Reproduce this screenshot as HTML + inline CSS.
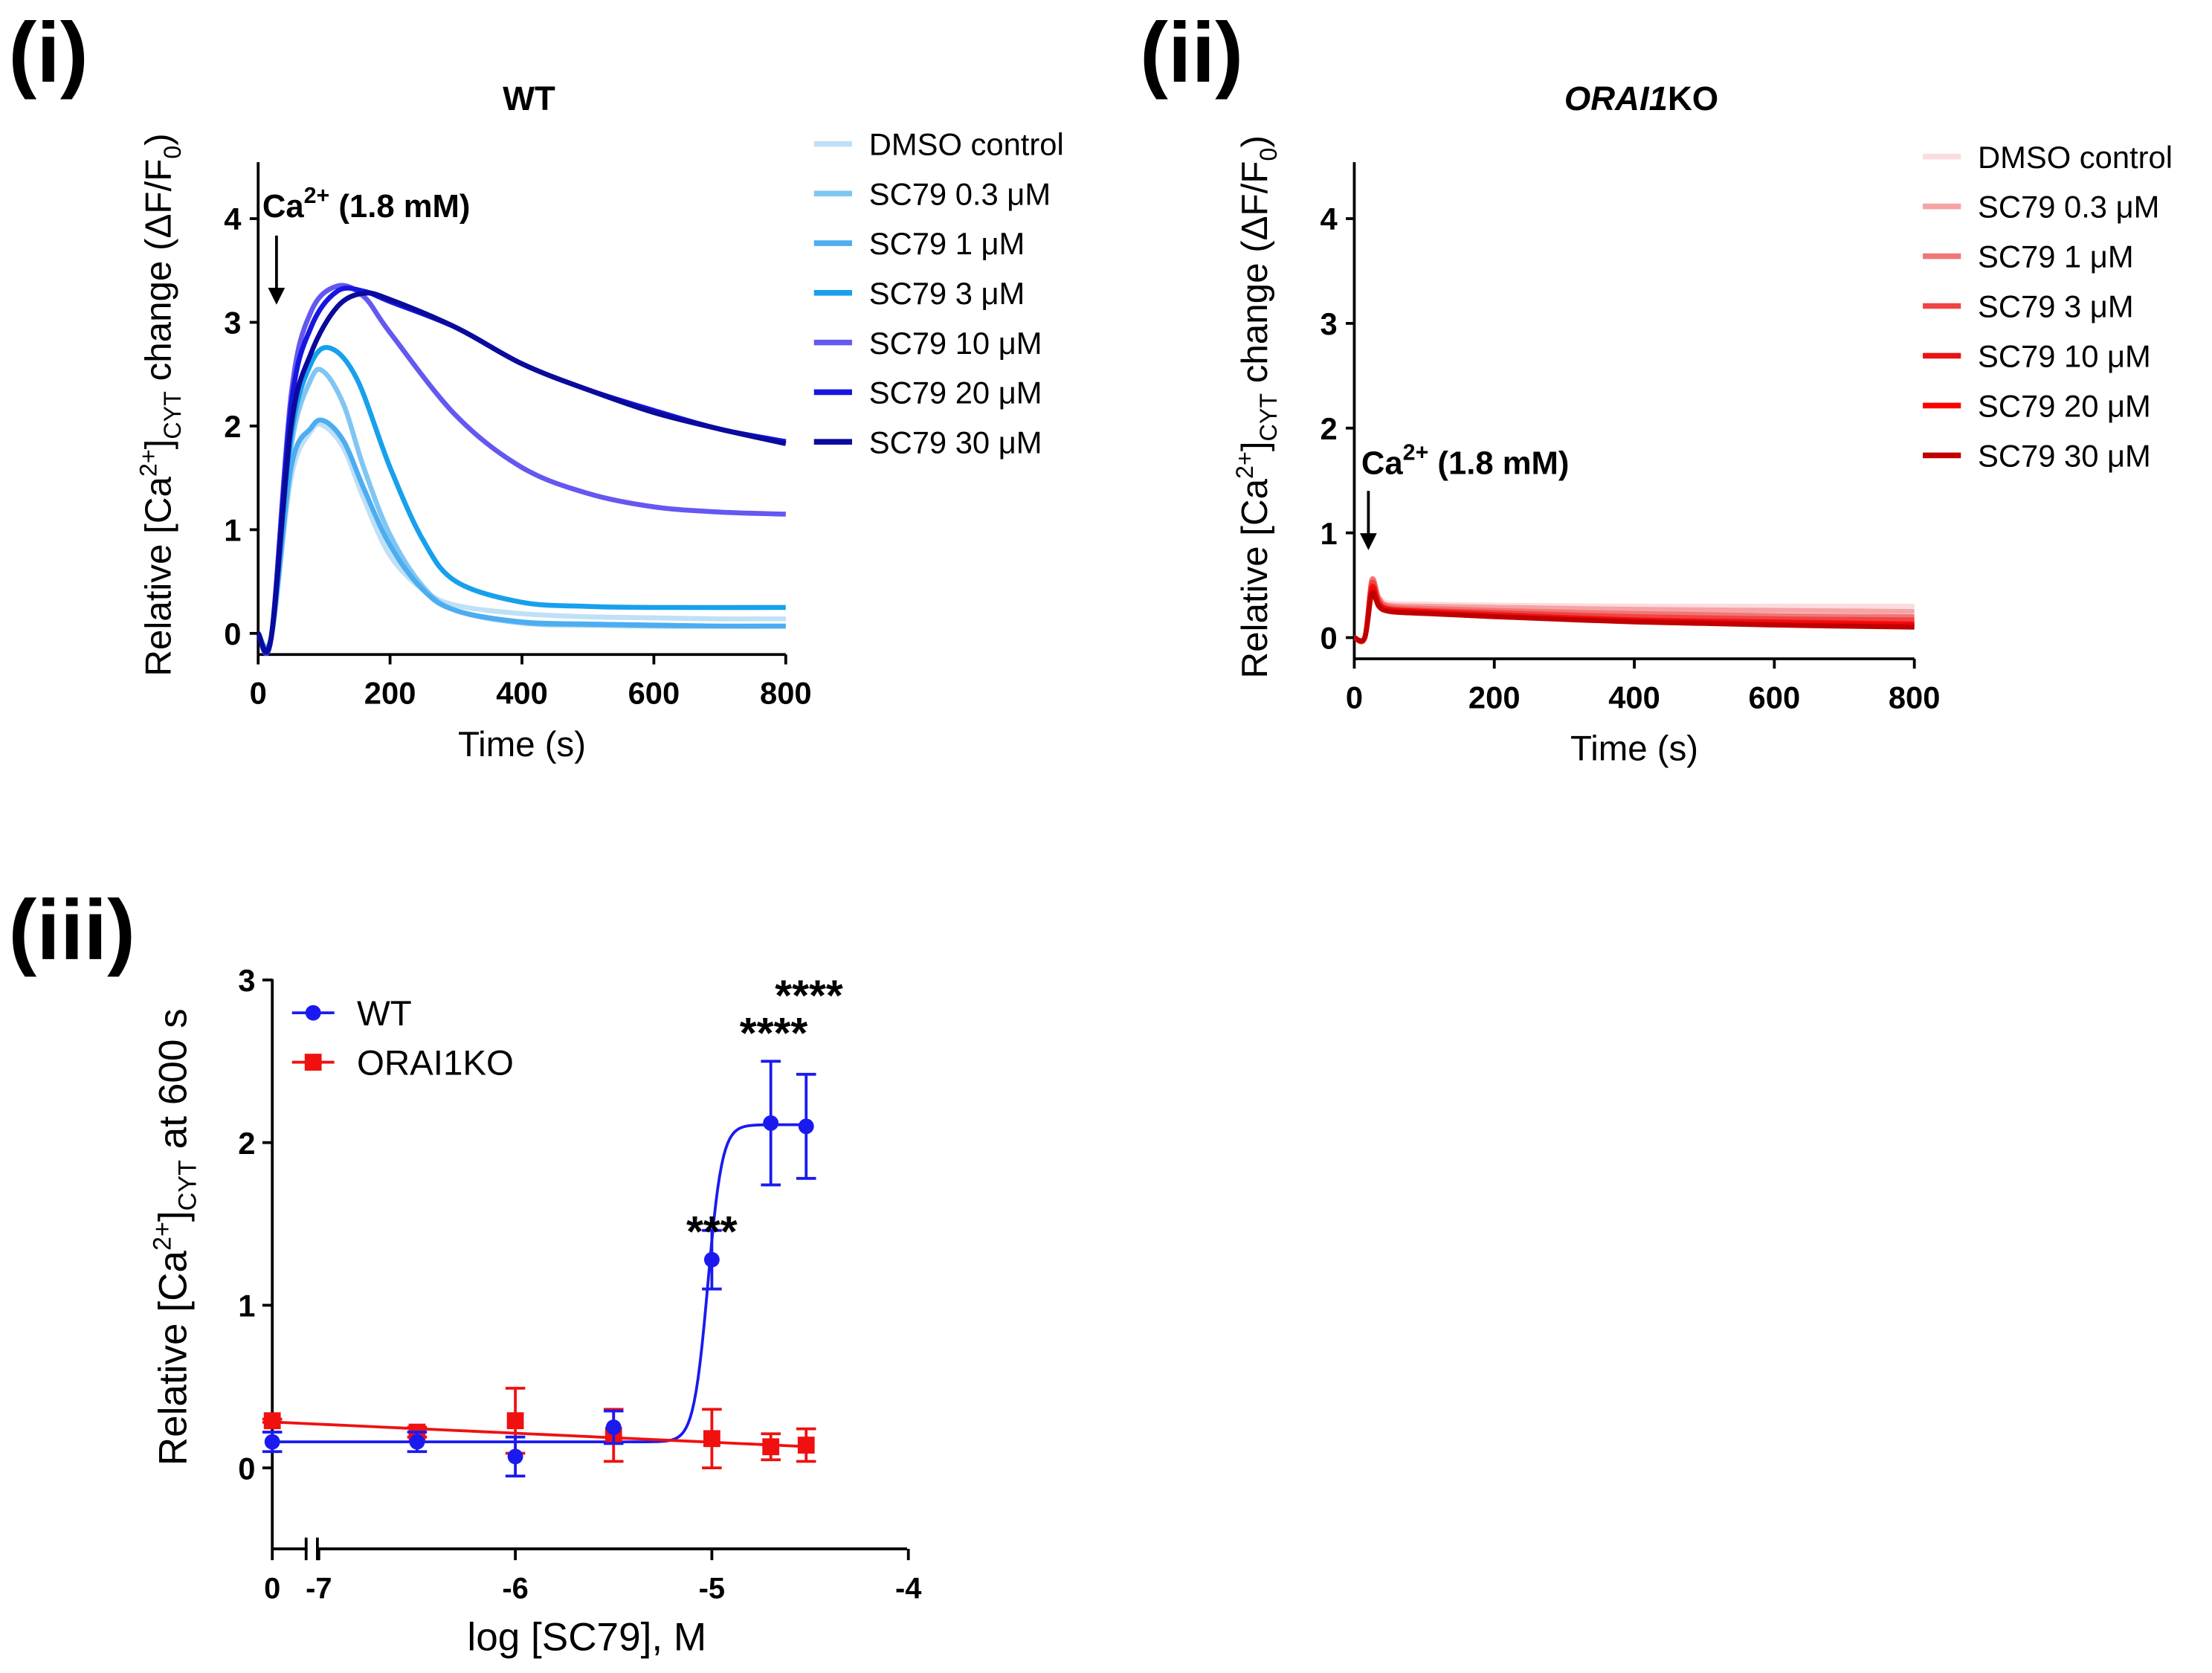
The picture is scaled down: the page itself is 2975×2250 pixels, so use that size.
<!DOCTYPE html>
<html><head><meta charset="utf-8"><style>
html,body{margin:0;padding:0;background:#fff;}
svg{display:block;font-family:"Liberation Sans",Arial,sans-serif;}
</style></head><body>
<svg id="fig" width="2975" height="2250" viewBox="0 0 1568 1186" preserveAspectRatio="none" xmlns="http://www.w3.org/2000/svg">
<rect width="1568" height="1186" fill="#fff"/>
<g id="p1"></g>
<g id="p2"></g>
<g id="p3"></g>
</svg>
<script>
// ---- Panel (i) data ----
const wtNames = ["DMSO control","SC79 0.3 \u03bcM","SC79 1 \u03bcM","SC79 3 \u03bcM","SC79 10 \u03bcM","SC79 20 \u03bcM","SC79 30 \u03bcM"];
const wtColors = ["#bfe0f6","#80c6f2","#4cadf0","#17a0ec","#6458f0","#1616e0","#0a0a9c"];
const tA = [0,20,50,80,100,130,160,200,250,300,400,500,600,700,800];
const wtDMSO = [0,-0.03,1.5,1.95,2.0,1.78,1.3,0.75,0.42,0.27,0.19,0.16,0.15,0.14,0.14];
const wt03 = [0,-0.03,1.8,2.45,2.52,2.2,1.6,0.95,0.45,0.22,0.1,0.08,0.07,0.07,0.07];
const wt1 = [0,-0.03,1.6,1.98,2.05,1.85,1.4,0.85,0.42,0.22,0.11,0.09,0.08,0.07,0.07];
const tB = [0,20,50,80,110,150,200,250,300,400,500,600,800];
const wt3 = [0,-0.03,1.9,2.6,2.75,2.45,1.6,0.9,0.5,0.3,0.26,0.25,0.25];
const tC = [0,20,50,80,120,160,200,300,400,500,600,700,800];
const wt10 = [0,-0.03,2.3,3.1,3.35,3.25,2.9,2.1,1.6,1.35,1.22,1.17,1.15];
const wt20 = [0,-0.03,2.2,2.95,3.3,3.3,3.2,2.95,2.6,2.35,2.15,1.97,1.85];
const wt30 = [0,-0.03,2.0,2.7,3.15,3.28,3.22,2.95,2.6,2.35,2.13,1.97,1.83];
// ---- Panel (ii) data ----
const koColors = ["#fbdcdf","#f5a3a5","#f27676","#f04444","#e81414","#ff0000","#c00000"];
const tK = [0,15,25,35,50,100,200,400,600,800];
const ko0 = [0,0,0.45,0.38,0.33,0.32,0.31,0.3,0.3,0.3];
const ko1 = [0,0,0.5,0.36,0.31,0.3,0.29,0.27,0.26,0.25];
const ko2 = [0,0,0.55,0.38,0.3,0.28,0.26,0.23,0.21,0.2];
const ko3 = [0,0,0.52,0.35,0.28,0.26,0.24,0.2,0.18,0.17];
const ko4 = [0,0,0.48,0.33,0.27,0.25,0.22,0.17,0.15,0.13];
const ko5 = [0,0,0.45,0.3,0.26,0.24,0.2,0.16,0.13,0.12];
const ko6 = [0,0,0.42,0.3,0.25,0.23,0.2,0.15,0.12,0.1];
// ---- Panel (iii) data ----
const concLog = [0,-6.5,-6,-5.5,-5,-4.7,-4.52]; // 0 = control (plotted at origin)
const wtMean = [0.16,0.16,0.07,0.25,1.28,2.12,2.10];
const wtErr = [0.06,0.06,0.12,0.1,0.18,0.38,0.32];
const koMean = [0.29,0.22,0.29,0.2,0.18,0.13,0.14];
const koErr = [0.01,0.03,0.2,0.16,0.18,0.08,0.1];
const wtFit = {bottom:0.16, top:2.11, logEC50:-5.02, hill:12};
const koFit = {start:0.28, end:0.13};
const stars = ["***","****","****"];
const starX = [-5,-4.7,-4.52];
const starY = [1.5,2.72,2.95];

const NS="http://www.w3.org/2000/svg";
function mk(parent,tag,attrs,text){const e=document.createElementNS(NS,tag);for(const k in attrs)e.setAttribute(k,attrs[k]);if(text!==undefined)e.textContent=text;parent.appendChild(e);return e;}
function spline(pts){let d="M"+pts[0][0]+","+pts[0][1];for(let i=0;i<pts.length-1;i++){const p0=pts[Math.max(0,i-1)],p1=pts[i],p2=pts[i+1],p3=pts[Math.min(pts.length-1,i+2)];const c1x=p1[0]+(p2[0]-p0[0])/6,c1y=p1[1]+(p2[1]-p0[1])/6,c2x=p2[0]-(p3[0]-p1[0])/6,c2y=p2[1]-(p3[1]-p1[1])/6;d+=` C${c1x},${c1y} ${c2x},${c2y} ${p2[0]},${p2[1]}`;}return d;}

function timePanel(g,ox,x800,y0,y4,axisY,title,italic,series,colors,legX,legY0,legDy,annX,annY,arrowX,arrowTop,arrowBot){
  const X=t=>ox+(x800-ox)*t/800, Y=v=>y0+(y4-y0)*v/4;
  let e;
  e=mk(g,"line",{x1:ox,y1:115,x2:ox,y2:axisY,stroke:"#000","stroke-width":2});
  
  e=mk(g,"line",{x1:ox,y1:axisY,x2:x800,y2:axisY,stroke:"#000","stroke-width":2});
  
  for(let v=0;v<=4;v++){mk(g,"line",{x1:ox-6,y1:Y(v),x2:ox,y2:Y(v),stroke:"#000","stroke-width":2});
    e=mk(g,"text",{x:ox-12,y:Y(v)+8,"text-anchor":"end","font-size":22,"font-weight":"bold"},String(v));
    }
  for(let t=0;t<=800;t+=200){mk(g,"line",{x1:X(t),y1:axisY,x2:X(t),y2:axisY+7,stroke:"#000","stroke-width":2});
    e=mk(g,"text",{x:X(t),y:axisY+35,"text-anchor":"middle","font-size":22,"font-weight":"bold"},String(t));
    }
  e=mk(g,"text",{x:(ox+x800)/2,y:axisY+72,"text-anchor":"middle","font-size":25},"Time (s)");
  
  const cy=(85+axisY+25)/2, lx=ox-62;
  e=mk(g,"text",{x:lx,y:cy,"text-anchor":"middle","font-size":26,transform:`rotate(-90 ${lx} ${cy})`});
  
  e.innerHTML='Relative [Ca<tspan dy="-10" font-size="17">2+</tspan><tspan dy="10">]</tspan><tspan dy="7" font-size="17">CYT</tspan><tspan dy="-7"> change (\u0394F/F</tspan><tspan dy="7" font-size="17">0</tspan><tspan dy="-7">)</tspan>';
  e=mk(g,"text",{x:(ox+x800)/2+5,y:78,"text-anchor":"middle","font-size":24,"font-weight":"bold"});
  
  e.innerHTML=italic?'<tspan font-style="italic">ORAI1</tspan>KO':title;
  series.forEach((s,i)=>{const pts=s[0].map((t,j)=>[X(t),Y(s[1][j])]);
    const p=mk(g,"path",{d:spline(pts),fill:"none",stroke:colors[i],"stroke-width":3.5,"stroke-linejoin":"round"});
    
    const ly=legY0+i*legDy;
    const l=mk(g,"line",{x1:legX,y1:ly,x2:legX+27,y2:ly,stroke:colors[i],"stroke-width":4});
    
    const tx=mk(g,"text",{x:legX+39,y:ly+8,"font-size":22},wtNames[i]);
    });
  e=mk(g,"text",{x:annX,y:annY,"font-size":23,"font-weight":"bold"});
  
  e.innerHTML='Ca<tspan dy="-10" font-size="16">2+</tspan><tspan dy="10"> (1.8 mM)</tspan>';
  e=mk(g,"line",{x1:arrowX,y1:arrowTop,x2:arrowX,y2:arrowBot-10,stroke:"#000","stroke-width":2});
  
  mk(g,"polygon",{points:`${arrowX-6},${arrowBot-12} ${arrowX+6},${arrowBot-12} ${arrowX},${arrowBot}`,fill:"#000"});
}
const g1=document.getElementById("p1"),g2=document.getElementById("p2"),g3=document.getElementById("p3");
timePanel(g1,183,557,449,155,464,"WT",false,
 [[tA,wtDMSO],[tA,wt03],[tA,wt1],[tB,wt3],[tC,wt10],[tC,wt20],[tC,wt30]],wtColors,577,102,35.2,186,154,196,167,216);
timePanel(g2,960,1357,452,155,467,"ORAI1KO",true,
 [[tK,ko0],[tK,ko1],[tK,ko2],[tK,ko3],[tK,ko4],[tK,ko5],[tK,ko6]],koColors,1363,111,35.3,965,336,970,348,390);

// panel labels
[["(i)",6,58],["(ii)",808,58],["(iii)",6,680]].forEach(a=>{const e=mk(document.getElementById("fig"),"text",{x:a[1],y:a[2],"font-size":60,"font-weight":"bold"},a[0]);
 });

// ---- Panel iii ----
(function(){
 const X=l=> l===0?193: 226+(l+7)*139.3, Y=v=>1040.6-115.3*v;
 let e;
 e=mk(g3,"line",{x1:193,y1:694,x2:193,y2:1098,stroke:"#000","stroke-width":2});
 
 e=mk(g3,"path",{d:"M193,1098 H218 M224,1098 H643",stroke:"#000","stroke-width":2,fill:"none"});
 
 mk(g3,"path",{d:"M217,1090 V1106 M225,1090 V1106",stroke:"#000","stroke-width":2});
 for(let v=0;v<=3;v++){mk(g3,"line",{x1:186,y1:Y(v),x2:193,y2:Y(v),stroke:"#000","stroke-width":2});
  e=mk(g3,"text",{x:181,y:Y(v)+8,"text-anchor":"end","font-size":22,"font-weight":"bold"},String(v));
  }
 [[0,"0"],[-7,"-7"],[-6,"-6"],[-5,"-5"],[-4,"-4"]].forEach(t=>{const x=t[0]===0?193:X(t[0]);
  mk(g3,"line",{x1:x,y1:1098,x2:x,y2:1106,stroke:"#000","stroke-width":2});
  e=mk(g3,"text",{x:x,y:1133,"text-anchor":"middle","font-size":21,"font-weight":"bold"},t[1]);
  });
 e=mk(g3,"text",{x:416,y:1170,"text-anchor":"middle","font-size":28},"log [SC79], M");
 
 e=mk(g3,"text",{x:132,y:877,"text-anchor":"middle","font-size":28,transform:"rotate(-90 132 877)"});
 
 e.innerHTML='Relative [Ca<tspan dy="-11" font-size="18">2+</tspan><tspan dy="11">]</tspan><tspan dy="7" font-size="18">CYT</tspan><tspan dy="-7"> at 600 s</tspan>';
 // fits
 let d="";for(let l=-7.2;l<=-4.5;l+=0.01){const v=wtFit.bottom+(wtFit.top-wtFit.bottom)/(1+Math.pow(10,(wtFit.logEC50-l)*wtFit.hill));d+=(d?"L":"M")+X(l)+","+Y(v);}
 e=mk(g3,"path",{d:d,fill:"none",stroke:"#1a1af0","stroke-width":2});
 d="";for(let l=-7.2;l<=-4.5;l+=0.05){const f=(l+7.2)/2.7;const v=koFit.start+(koFit.end-koFit.start)*f;d+=(d?"L":"M")+X(l)+","+Y(v);}
 e=mk(g3,"path",{d:d,fill:"none",stroke:"#f01010","stroke-width":2});
 function pts(mean,err,col,shape,name){concLog.forEach((l,i)=>{const x=X(l),y=Y(mean[i]);
  mk(g3,"path",{d:`M${x},${Y(mean[i]+err[i])}V${Y(mean[i]-err[i])}M${x-7},${Y(mean[i]+err[i])}H${x+7}M${x-7},${Y(mean[i]-err[i])}H${x+7}`,stroke:col,"stroke-width":2,fill:"none"});
  const m=shape==="c"?mk(g3,"circle",{cx:x,cy:y,r:5.5,fill:col}):mk(g3,"rect",{x:x-6,y:y-6,width:12,height:12,fill:col});
  });}
 pts(koMean,koErr,"#f01010","s","ko-point");
 pts(wtMean,wtErr,"#1a1af0","c","wt-point");
 stars.forEach((s,i)=>{const e=mk(g3,"text",{x:X(starX[i])+(i==0?0:2),y:Y(starY[i])+16,"text-anchor":"middle","font-size":31,"font-weight":"bold"},s);
  });
 // legend
 mk(g3,"line",{x1:207,y1:718,x2:237,y2:718,stroke:"#1a1af0","stroke-width":2});
 mk(g3,"circle",{cx:222,cy:718,r:5.5,fill:"#1a1af0"});
 e=mk(g3,"text",{x:253,y:727,"font-size":25},"WT");
 mk(g3,"line",{x1:207,y1:753,x2:237,y2:753,stroke:"#f01010","stroke-width":2});
 mk(g3,"rect",{x:216,y:747,width:12,height:12,fill:"#f01010"});
 e=mk(g3,"text",{x:253,y:762,"font-size":25},"ORAI1KO");
})();
</script>
</body></html>
